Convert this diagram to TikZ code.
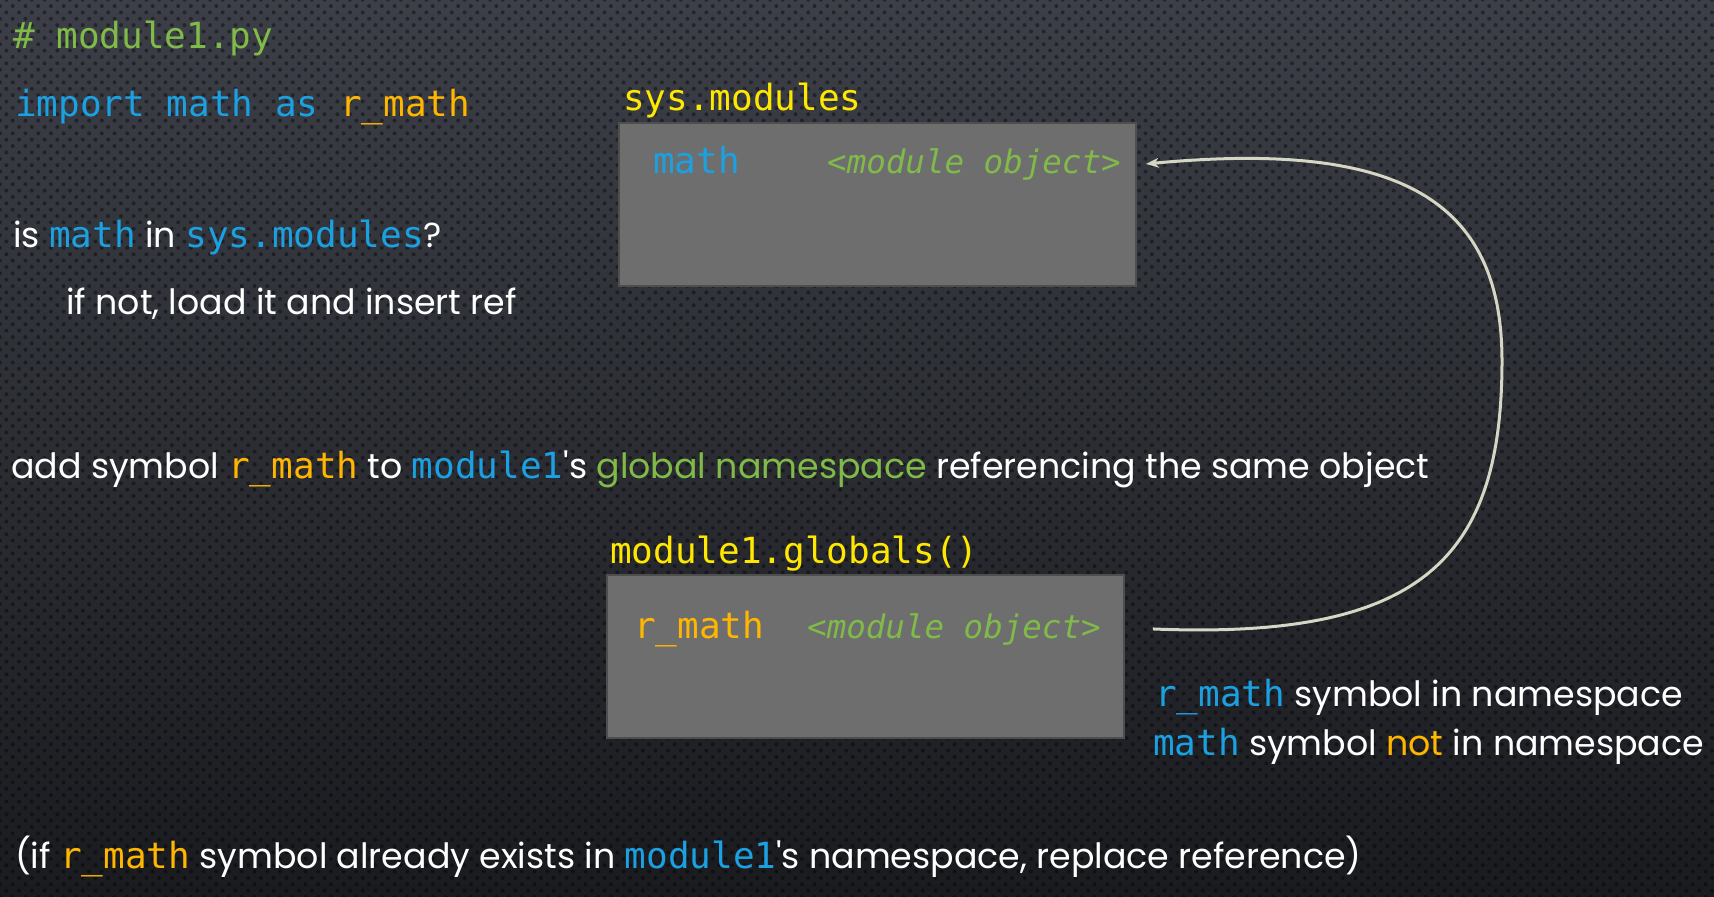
\documentclass[tikz,border=0pt]{standalone}
\usepackage{fontspec}
\setmainfont{Poppins}
\setmonofont{DejaVu Sans Mono}
\usepackage{xcolor}
\usetikzlibrary{arrows.meta,patterns.meta}

\definecolor{codeblue}{RGB}{27,161,226}
\definecolor{codeamber}{RGB}{255,182,0}
\definecolor{codeyellow}{RGB}{255,232,0}
\definecolor{codegreen}{RGB}{128,186,72}
\definecolor{boxgray}{RGB}{110,110,110}
\definecolor{boxedge}{RGB}{78,78,78}
\definecolor{curvecol}{RGB}{214,214,196}
\definecolor{bgtop}{RGB}{60,63,71}
\definecolor{bgbot}{RGB}{26,27,31}

\newcommand{\cblue}[1]{\textcolor{codeblue}{\fontsize{36}{40}\selectfont\ttfamily #1}}
\newcommand{\camber}[1]{\textcolor{codeamber}{\fontsize{36}{40}\selectfont\ttfamily #1}}

\begin{document}
\begin{tikzpicture}[x=1pt, y=-1pt,
    txt/.style={anchor=base west, inner sep=0pt, text=white, font=\fontsize{34.8}{40}\selectfont},
    code/.style={anchor=base west, inner sep=0pt, font=\fontsize{36}{40}\selectfont\ttfamily},
    objtxt/.style={code, text=codegreen, font=\fontsize{32.5}{40}\selectfont\ttfamily\itshape},
    dictbox/.style={draw=boxedge, line width=2pt, fill=boxgray, anchor=north west,
        inner sep=0pt, minimum width=517pt, minimum height=163pt},
    link/.style={draw=curvecol, line width=3pt, -{Stealth[length=13pt,width=10pt]}}]
%    \draw [help lines, opacity=0.5] (0,0) grid [step=100] (1714,897);
    %% slide background
    \fill [top color=bgtop, bottom color=bgbot] (0,0) rectangle (1714,897);
    \fill [pattern={Dots[distance=9pt, radius=2pt, angle=45]}, pattern color=black,
        opacity=0.4] (0,0) rectangle (1714,897);

    \node (comment) [code, text=codegreen] at (13,48) {\# module1.py};
    \node (import) [code] at (15,116) {\textcolor{codeblue}{import math as} \textcolor{codeamber}{r\_math}};

    %% sys.modules dictionary
    \node (smtitle) [code, text=codeyellow] at (623,110) {sys.modules};
    \node (sbox) [dictbox] at (618,122) {};
    \node (skey) [code, text=codeblue] at (653,173) {math};
    \node (sobj) [objtxt] at (827,173) {<module object>};

    \node (question) [txt] at (13,247) {is \cblue{math} in \cblue{sys.modules}?};
    \node (ifnot) [txt] at (66,314) {if not, load it and insert ref};

    \node (addsym) [txt] at (11,478) {add symbol \camber{r\_math} to \cblue{module1}\textquotesingle s \textcolor{codegreen}{global namespace} referencing the same object};

    %% globals of module1
    \node (gtitle) [code, text=codeyellow] at (610,563) {module1.globals()};
    \node (gbox) [dictbox] at (606,574) {};
    \node (gkey) [code, text=codeamber] at (634,638) {r\_math};
    \node (gobj) [objtxt] at (807,638) {<module object>};

    \node (note1) [txt] at (1155,706) {\cblue{r\_math} symbol in namespace};
    \node (note2) [txt] at (1153,755) {\cblue{math} symbol \textcolor{codeamber}{not} in namespace};

    \node (replace) [txt] at (15,868) {(if \camber{r\_math} symbol already exists in \cblue{module1}\textquotesingle s namespace, replace reference)};

    %% same object referenced from both
    \coordinate (bend) at (1502,361);
    \draw [link] ([xshift=52pt]gobj.east) .. controls (1420,640) and (1502,560) .. (bend)
        .. controls (1502,200) and (1400,140) .. ([xshift=25pt]sobj.east);
\end{tikzpicture}
\end{document}
